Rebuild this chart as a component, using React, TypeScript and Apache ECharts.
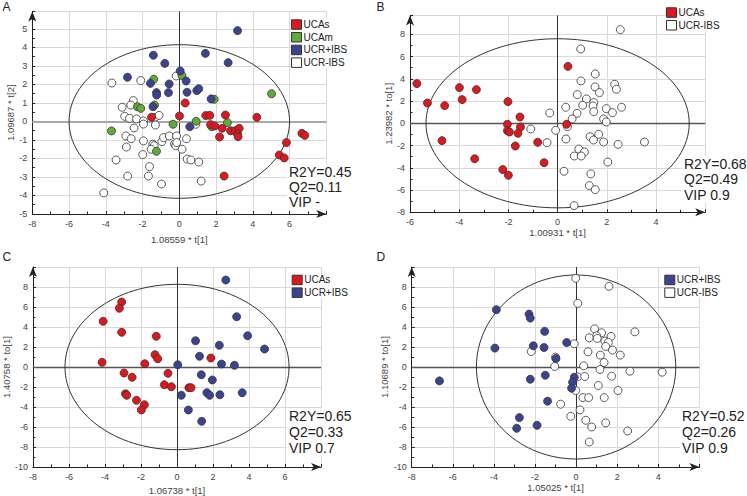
import React, { useEffect, useRef } from 'react';
import * as echarts from 'echarts';

// ---------- data ----------
const aUCAs = [[0.32,1.0],[0.01,0.30],[-1.51,0.23],[1.44,0.32],[1.66,0.33],[2.51,0.35],[4.22,0.23],[1.70,-0.17],[1.93,-0.24],[2.33,-0.37],[2.79,-0.50],[3.04,-0.50],[3.26,-0.37],[3.17,-0.68],[3.20,-0.82],[2.19,-0.84],[6.67,-0.64],[6.83,-0.75],[5.83,-1.14],[5.44,-1.81],[5.71,-1.97],[2.44,-2.95]];
const aUCAm = [[5.02,1.50],[-1.39,2.28],[0.14,2.49],[-2.28,0.80],[-2.10,0.71],[-1.35,0.89],[1.90,1.20],[-3.69,-0.51],[-0.34,-0.15],[0.92,0.01],[1.77,-0.28],[2.62,-0.06],[-1.24,-1.61]];
const aUCRpIBS = [[3.17,4.91],[-1.41,3.58],[1.42,3.68],[-0.79,3.14],[2.66,3.18],[-2.82,2.39],[0.05,2.73],[-1.57,2.06],[-0.55,2.03],[0.37,2.19],[-1.24,1.56],[-1.23,1.43],[-0.59,1.56],[0.42,1.58],[0.95,1.67],[1.06,1.77],[1.73,1.22],[-1.43,0.80],[0.57,-0.28]];
const aUCRmIBS = [[-3.67,2.08],[-2.10,2.21],[-0.17,2.46],[-2.50,1.13],[-2.64,0.89],[-3.11,0.77],[-2.97,0.28],[-2.71,0.17],[-2.33,0.14],[-1.95,0.03],[-1.95,-0.14],[-2.46,-0.35],[-1.32,0.22],[-1.10,0.33],[-1.30,-0.19],[-2.91,-0.78],[-2.62,-0.93],[-2.88,-1.38],[-1.95,-1.05],[-1.44,-1.23],[-1.37,-1.31],[-1.53,-1.50],[-0.95,-1.09],[-0.86,-0.87],[-0.54,-0.78],[-0.15,-0.78],[0.39,-0.93],[-0.26,-1.22],[-0.19,-1.31],[-0.14,-1.14],[0.15,-1.50],[-1.99,-1.79],[-3.44,-2.08],[-1.62,-2.44],[0.43,-2.03],[0.63,-2.08],[1.06,-2.19],[-2.81,-2.95],[-1.68,-2.95],[-0.97,-3.38],[1.19,-3.22],[-4.11,-3.86],[0.90,-0.15]];

const bUCAs = [[-5.72,3.57],[-5.29,1.83],[-4.59,1.59],[-3.99,3.21],[-3.88,2.13],[-3.30,3.03],[-4.70,-1.56],[-3.37,-3.18],[-2.02,1.95],[-2.04,-0.09],[-2.04,-0.66],[-1.96,-0.78],[-1.53,0.57],[-1.51,-0.33],[-1.61,-0.90],[-1.72,-2.04],[-0.81,-1.71],[-0.55,-3.54],[-2.23,-4.16],[-2.00,-4.67],[0.42,5.12],[0.37,-0.09]];
const bUCRmIBS = [[2.55,8.42],[0.94,6.68],[1.53,4.43],[0.95,3.81],[2.32,3.51],[2.39,3.06],[1.52,3.27],[1.70,2.76],[0.80,2.58],[1.17,2.19],[1.47,1.86],[1.44,1.56],[1.02,1.62],[1.47,1.05],[0.33,1.44],[2.60,1.44],[1.98,1.32],[2.23,0.96],[1.87,0.39],[1.98,0.12],[0.79,0.90],[0.59,0.39],[-0.32,0.93],[-1.09,-0.51],[-0.08,-0.63],[0.40,-0.30],[0.34,-1.41],[-0.43,-1.74],[1.32,-1.20],[1.46,-1.50],[1.67,-0.99],[1.87,-1.68],[2.46,-1.89],[3.53,-1.68],[0.86,-2.31],[1.09,-2.58],[0.68,-2.94],[0.96,-2.94],[2.04,-3.48],[0.26,-4.31],[1.35,-4.55],[1.29,-5.60],[1.53,-5.96],[0.67,-7.40]];

const cUCAs = [[-3.07,6.5],[-3.20,5.87],[-4.10,4.57],[-3.07,3.47],[-4.16,0.47],[-1.15,3.07],[-1.22,1.23],[-1.07,0.83],[-1.79,0.33],[1.88,0.90],[-2.94,-0.60],[-2.49,-1.03],[-0.50,-0.63],[-0.70,-1.77],[-0.31,-1.97],[0.66,-2.07],[0.78,-2.07],[-2.86,-2.67],[-2.79,-2.83],[-2.25,-3.33],[-1.81,-3.77],[-1.98,-4.30]];
const cUCRpIBS = [[2.71,8.70],[3.31,5.03],[3.92,3.13],[4.86,1.80],[1.03,2.63],[2.35,2.17],[1.25,1.07],[2.47,0.30],[3.19,0.17],[0.04,0.23],[1.35,-0.77],[1.96,-1.30],[1.66,-2.57],[1.81,-2.83],[2.38,-2.77],[3.62,-2.57],[0.24,-2.83],[0.63,-4.30],[1.37,-5.43]];

const dUCRpIBS = [[-3.88,5.73],[-2.29,5.29],[-2.23,4.89],[-1.53,3.56],[-0.46,2.45],[-2.08,2.12],[-1.56,1.95],[-3.95,1.89],[-0.98,0.85],[-1.50,-0.82],[-2.23,-1.22],[-6.65,-1.39],[-0.09,-1.02],[-0.17,-1.52],[-0.22,-2.12],[-1.39,-3.42],[-2.76,-5.06],[-1.90,-5.83],[-2.89,-6.13]];
const dUCRmIBS = [[-0.02,8.87],[1.60,8.07],[0.08,6.36],[0.90,3.82],[1.24,3.42],[1.00,3.12],[1.70,3.06],[0.64,2.92],[1.03,2.86],[1.40,2.59],[1.57,2.45],[2.86,3.52],[-0.09,2.32],[1.44,2.05],[1.77,1.69],[0.58,1.52],[2.15,1.19],[1.18,1.19],[1.36,0.45],[-2.18,1.55],[-1.0,0.98],[-1.04,0.05],[0.37,0.12],[1.16,-0.25],[2.62,-0.42],[4.19,-0.52],[0.08,-0.99],[0.42,-0.95],[1.73,-0.92],[1.08,-1.85],[-0.02,-2.35],[2.04,-2.35],[0.33,-3.06],[0.61,-3.06],[1.37,-3.06],[-0.75,-3.72],[0.19,-4.29],[-0.26,-4.93],[0.47,-5.33],[0.76,-6.0],[1.44,-5.59],[2.51,-6.40],[0.64,-7.50]];

// Hotelling ellipse [cx, cy, rx, ry]
const ellipseA = [0, 0, 6.0, 4.15];
const ellipseB = [0, 0, 5.35, 7.6];
const ellipseC = [0, 0, 6.22, 8.27];
const ellipseD = [0, 0, 4.85, 9.2];

const xNames = ['1.08559 * t[1]', '1.00931 * t[1]', '1.06738 * t[1]', '1.05025 * t[1]'];
const yNames = ['1.09687 * t[2]', '1.23982 * to[1]', '1.40758 * to[1]', '1.10689 * to[1]'];
const panelLetters = ['A', 'B', 'C', 'D'];
const statTexts = ['R2Y=0.45\nQ2=0.11\nVIP -', 'R2Y=0.68\nQ2=0.49\nVIP 0.9', 'R2Y=0.65\nQ2=0.33\nVIP 0.7', 'R2Y=0.52\nQ2=0.26\nVIP 0.9'];
const legendNames = [
  ['UCAs', 'UCAm', 'UCR+IBS', 'UCR-IBS'],
  ['UCAs', 'UCR-IBS'],
  ['UCAs', 'UCR+IBS'],
  ['UCR+IBS', 'UCR-IBS'],
];

// ---------- layout / style ----------
const COLORS: Record<string, string> = {
  'UCAs': '#e3161d',
  'UCAm': '#5fae34',
  'UCR+IBS': '#3c4395',
  'UCR-IBS': '#ffffff',
};

const layouts = [
  { grid: { left: 32.3, top: 11.4, width: 294, height: 202.6 }, xMin: -8, xMax: 8, yMin: -5, yMax: 5.95, yInt: 1, xGap: 20, yGap: 17,
    legend: { left: 291, top: 19.3 }, letter: { left: 2.5, top: 0.5 }, stat: { left: 289, top: 164.5, lh: 15 }, hZero: { color: '#a8a8a8', width: 2 } },
  { grid: { left: 410, top: 15.4, width: 295.2, height: 196.9 }, xMin: -6, xMax: 6, yMin: -8, yMax: 9.7, yInt: 2, xGap: 15, yGap: 17,
    legend: { left: 666, top: 7.3 }, letter: { left: 376.5, top: 0.5 }, stat: { left: 684, top: 155.8, lh: 15.7 }, hZero: { color: '#555', width: 1.3 } },
  { grid: { left: 32.3, top: 267, width: 288.8, height: 200 }, xMin: -8, xMax: 8, yMin: -10, yMax: 10, yInt: 2, xGap: 18, yGap: 16,
    legend: { left: 291.7, top: 274.7 }, letter: { left: 2.5, top: 250.5 }, stat: { left: 289, top: 408.3, lh: 16 }, hZero: { color: '#555', width: 1.3 } },
  { grid: { left: 411.7, top: 267, width: 287.7, height: 200 }, xMin: -8, xMax: 6, yMin: -10, yMax: 10, yInt: 2, xGap: 15, yGap: 17,
    legend: { left: 664.3, top: 274.7 }, letter: { left: 376.5, top: 250.5 }, stat: { left: 682, top: 408.3, lh: 16 }, hZero: { color: '#555', width: 1.3 } },
];

const panelSeries: { name: string; data: number[][] }[][] = [
  [ { name: 'UCR-IBS', data: aUCRmIBS }, { name: 'UCAm', data: aUCAm }, { name: 'UCAs', data: aUCAs }, { name: 'UCR+IBS', data: aUCRpIBS } ],
  [ { name: 'UCR-IBS', data: bUCRmIBS }, { name: 'UCAs', data: bUCAs } ],
  [ { name: 'UCAs', data: cUCAs }, { name: 'UCR+IBS', data: cUCRpIBS } ],
  [ { name: 'UCR-IBS', data: dUCRmIBS }, { name: 'UCR+IBS', data: dUCRpIBS } ],
];
const ellipses = [ellipseA, ellipseB, ellipseC, ellipseD];

const FONT = 'Liberation Sans, Arial, sans-serif';
const AXIS = '#222';

function buildOption() {
  const grid: any[] = [];
  const xAxis: any[] = [];
  const yAxis: any[] = [];
  const series: any[] = [];
  const legend: any[] = [];
  const graphic: any[] = [];

  layouts.forEach((L, i) => {
    grid.push({ ...L.grid, containLabel: false });
    const common = {
      type: 'value',
      gridIndex: i,
      axisLine: { show: true, onZero: false, lineStyle: { color: AXIS, width: 1 }, symbol: ['none', 'arrow'], symbolSize: [6, 10] },
      axisTick: { show: true, inside: true, length: 3, lineStyle: { color: AXIS } },
      minorTick: { show: true, splitNumber: 2, length: 2.5, lineStyle: { color: AXIS } },
      splitLine: { show: true, lineStyle: { color: '#d9d9d9', width: 1 } },
      axisLabel: { fontSize: 9, color: '#444', margin: 5, showMaxLabel: false, fontFamily: FONT },
      nameLocation: 'middle',
      nameTextStyle: { fontSize: 9.5, color: '#444', fontFamily: FONT },
    };
    xAxis.push({ ...common, min: L.xMin, max: L.xMax, interval: 2, name: xNames[i], nameGap: L.xGap });
    yAxis.push({ ...common, min: L.yMin, max: L.yMax, interval: L.yInt, name: yNames[i], nameGap: L.yGap });

    // zero lines
    series.push({
      type: 'line', xAxisIndex: i, yAxisIndex: i, data: [], silent: true, z: 1,
      markLine: {
        silent: true, symbol: 'none', animation: false, z: 1,
        label: { show: false },
        data: [
          { xAxis: 0, lineStyle: { color: '#333', width: 1, type: 'solid' } },
          { yAxis: 0, lineStyle: { color: L.hZero.color, width: L.hZero.width, type: 'solid' } },
        ],
      },
    });

    // Hotelling ellipse
    series.push({
      type: 'custom', xAxisIndex: i, yAxisIndex: i, silent: true, z: 2, clip: false,
      data: [ellipses[i]],
      encode: { x: 0, y: 1 },
      renderItem: (params: any, api: any) => {
        const c = api.coord([api.value(0), api.value(1)]);
        const s = api.size([api.value(2), api.value(3)]);
        return { type: 'ellipse', shape: { cx: c[0], cy: c[1], rx: s[0], ry: s[1] }, style: { fill: 'none', stroke: '#333', lineWidth: 1 } };
      },
    });

    panelSeries[i].forEach((s) => {
      series.push({
        type: 'scatter', name: s.name, xAxisIndex: i, yAxisIndex: i, data: s.data,
        symbol: 'circle', symbolSize: 8, z: 10,
        itemStyle: { color: COLORS[s.name], borderColor: '#333', borderWidth: 0.8, opacity: 1 },
        emphasis: { disabled: true },
      });
    });

    legend.push({
      data: legendNames[i], orient: 'vertical', left: L.legend.left, top: L.legend.top,
      itemWidth: 10, itemHeight: 9.5, itemGap: 2.2, icon: 'rect', padding: 0, selectedMode: false,
      backgroundColor: '#ffffff', z: 20,
      itemStyle: { borderColor: '#333', borderWidth: 1 },
      textStyle: { fontSize: 10, color: '#222', fontFamily: FONT, padding: [0, 0, 0, -3] },
    });

    graphic.push({ type: 'text', left: L.letter.left, top: L.letter.top, z: 30, style: { text: panelLetters[i], fontSize: 12, fill: '#222', fontFamily: FONT } });
    graphic.push({ type: 'text', left: L.stat.left - 2, top: L.stat.top, z: 30, style: { text: statTexts[i], fontSize: 14, lineHeight: L.stat.lh, fill: '#222', fontFamily: FONT, backgroundColor: '#ffffff', padding: [0, 2, 0, 2] } });
  });

  return {
    animation: false,
    backgroundColor: '#ffffff',
    textStyle: { fontFamily: FONT },
    grid, xAxis, yAxis, series, legend, graphic,
  };
}

export default function App() {
  const ref = useRef<HTMLDivElement>(null);
  useEffect(() => {
    if (!ref.current) return;
    const chart = echarts.init(ref.current, undefined, { renderer: 'svg' });
    chart.setOption(buildOption() as any);
    return () => chart.dispose();
  }, []);
  return <div ref={ref} style={{ position: 'fixed', left: 0, top: 0, width: 747, height: 496, background: '#fff' }} />;
}
